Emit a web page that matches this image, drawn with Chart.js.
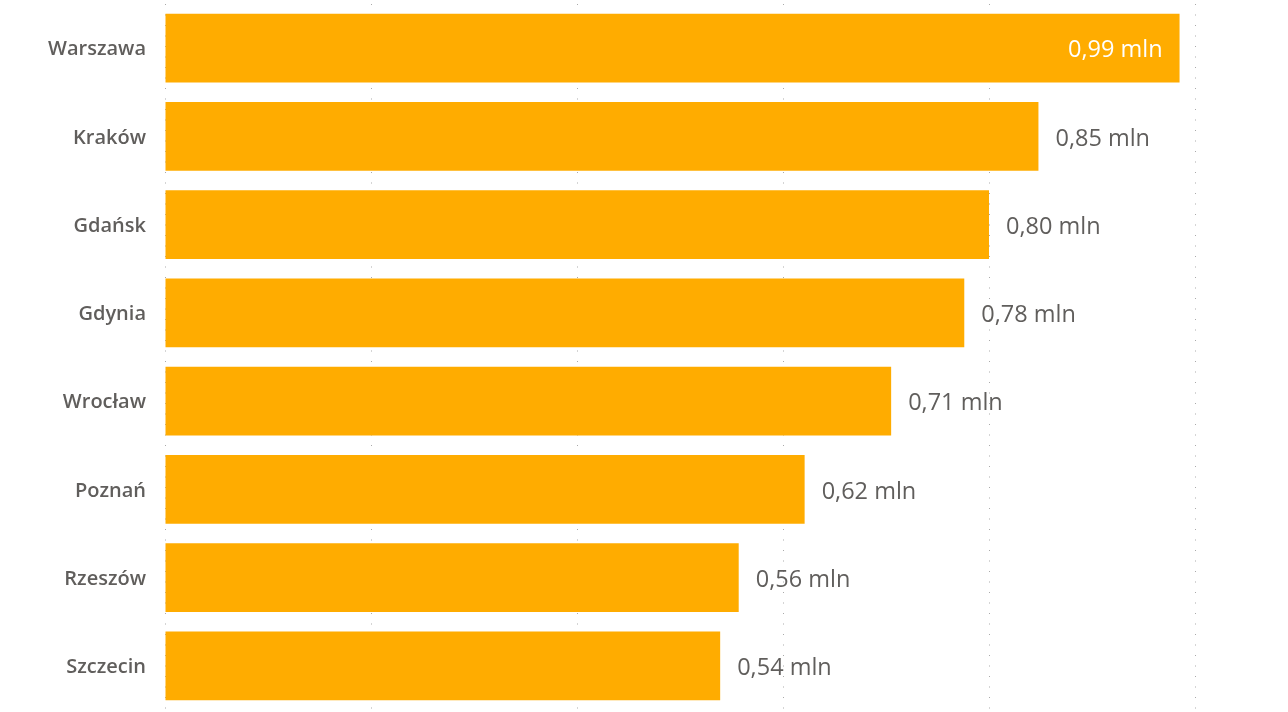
<!DOCTYPE html>
<html>
<head>
<meta charset="utf-8">
<script src="https://cdn.jsdelivr.net/npm/chart.js@4/dist/chart.umd.min.js"></script>
<style>
  html,body{margin:0;padding:0;background:#fff;}
  #wrap{width:1288px;height:712px;position:relative;}
</style>
</head>
<body>
<div id="wrap"><canvas id="c"></canvas></div>
<script>
// population values (mln)
const cities = ['Warszawa','Kraków','Gdańsk','Gdynia','Wrocław','Poznań','Rzeszów','Szczecin'];
const values = [0.985, 0.848, 0.80, 0.776, 0.705, 0.621, 0.557, 0.539];
const labels = ['0,99 mln','0,85 mln','0,80 mln','0,78 mln','0,71 mln','0,62 mln','0,56 mln','0,54 mln'];

const barColor = '#FFAC00';
const textColor = '#605E5C';
const fontFamily = "'Segoe UI', 'Open Sans', sans-serif";

// draws the "x,xx mln" text next to (or inside) each bar
const valueLabels = {
  id: 'valueLabels',
  afterDatasetsDraw(chart){
    const ctx = chart.ctx;
    const meta = chart.getDatasetMeta(0);
    ctx.save();
    ctx.font = '23.5px ' + fontFamily;
    ctx.textBaseline = 'middle';
    meta.data.forEach((bar, i) => {
      const txt = labels[i];
      const w = ctx.measureText(txt).width;
      if(bar.x + 17 + w > chart.chartArea.right){
        ctx.fillStyle = '#fff'; ctx.textAlign = 'right';
        ctx.fillText(txt, bar.x - 17, bar.y + 2.5);
      } else {
        ctx.fillStyle = textColor; ctx.textAlign = 'left';
        ctx.fillText(txt, bar.x + 17, bar.y + 2.5);
      }
    });
    ctx.restore();
  }
};

new Chart(document.getElementById('c'), {
  type: 'bar',
  data: {
    labels: cities,
    datasets: [{ data: values, backgroundColor: barColor, barPercentage: 0.78, categoryPercentage: 1 }]
  },
  options: {
    indexAxis: 'y',
    responsive: true,
    maintainAspectRatio: false,
    animation: false,
    layout: { padding: { top: 4, bottom: 2, right: 93, left: 0 } },
    plugins: { legend: { display: false }, tooltip: { enabled: false } },
    scales: {
      x: {
        min: 0, max: 1,
        ticks: { display: false, stepSize: 0.2 },
        border: { display: false, dash: [1, 9.5] },
        grid: { color: '#aaaaaa', lineWidth: 1, drawTicks: false },
        afterFit(scale){ scale.height = 0; scale.paddingLeft = 0; scale.paddingRight = 0; }
      },
      y: {
        border: { display: false },
        grid: { display: false, drawTicks: false },
        ticks: { color: textColor, padding: 19, labelOffset: 1.5, font: { family: fontFamily, size: 20, weight: '600' } },
        afterFit(scale){ scale.width = 165; scale.paddingTop = 0; scale.paddingBottom = 0; }
      }
    }
  },
  plugins: [valueLabels]
});
</script>
</body>
</html>
